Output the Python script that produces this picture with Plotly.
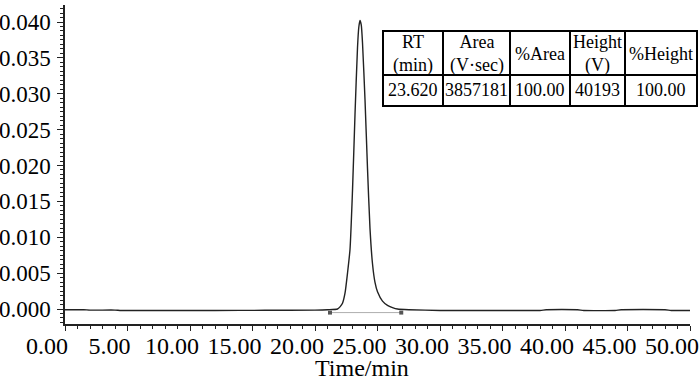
import plotly.graph_objects as go

# ---- data ----
time_min = [0.0, 1.5, 2.0, 4.0, 4.5, 8.0, 8.5, 12.0, 16.0, 20.0, 21.0, 21.8,
            22.0, 22.2, 22.4, 22.6, 22.8, 23.0, 23.2, 23.4, 23.5, 23.6, 23.7,
            23.8, 24.0, 24.2, 24.4, 24.6, 24.8, 25.0, 25.4, 25.8, 26.2, 26.6,
            27.5, 30.0, 34.0, 38.0, 38.5, 41.0, 41.5, 44.0, 44.5, 48.0, 48.5, 50.0]
signal_v = [-0.0001, -0.0001, -0.00015, -0.00015, -0.0002, -0.0002, -0.0002,
            -0.0002, -0.00018, -0.00015, -0.0001, 0.0000,
            0.0003, 0.0008, 0.0022, 0.0050, 0.0083, 0.0165, 0.0271, 0.0364,
            0.0392, 0.0402, 0.0396, 0.0371, 0.0292, 0.0196, 0.0112, 0.0063,
            0.0037, 0.0024, 0.0011, 0.0005, 0.0002, 0.0000,
            -0.0001, -0.0002, -0.0002, -0.0002, -0.0001, -0.0001, -0.0002,
            -0.0002, -0.0001, -0.0001, -0.0002, -0.0002]

# integration start / end marks
mark_time = [21.2, 26.9]
mark_level = [-0.0005, -0.0005]

# result table
table_header = ["RT<br>(min)", "Area<br>(V·sec)", "%Area", "Height<br>(V)", "%Height"]
table_values = ["23.620", "3857181", "100.00", "40193", "100.00"]

x_ticks = [0, 5, 10, 15, 20, 25, 30, 35, 40, 45, 50]
x_tick_text = ["%.2f" % v for v in x_ticks]
y_ticks = [0.000, 0.005, 0.010, 0.015, 0.020, 0.025, 0.030, 0.035, 0.040]
y_tick_text = ["%.3f" % v for v in y_ticks]

# ---- layout helpers (pixel -> paper) ----
W, H = 700, 381
def px(x):
    return x / W
def py(y):
    return 1 - y / H

FONT = "Liberation Serif"

fig = go.Figure()
fig.add_trace(go.Scatter(
    x=time_min, y=signal_v, mode="lines",
    line=dict(color="#222222", width=1.4, shape="spline", smoothing=0.6),
    hoverinfo="skip", showlegend=False))
fig.add_trace(go.Scatter(
    x=mark_time, y=mark_level, mode="lines+markers",
    line=dict(color="#999999", width=0.8),
    marker=dict(symbol="square", size=4, color="#555555"),
    hoverinfo="skip", showlegend=False))

fig.update_layout(
    width=W, height=H,
    margin=dict(l=0, r=0, t=0, b=0, autoexpand=False),
    paper_bgcolor="white", plot_bgcolor="white",
    font=dict(family=FONT, color="black", size=24),
    xaxis=dict(
        domain=[px(65), px(690)], range=[0, 50], automargin=False,
        tickvals=x_ticks, ticktext=x_tick_text,
        ticks="outside", ticklen=5, tickwidth=1.2, tickcolor="#222",
        showline=True, linecolor="#222", linewidth=1.5,
        showgrid=False, zeroline=False,
        ticklabelshift=-18, ticklabelstandoff=-6,
        tickfont=dict(family=FONT, size=24, color="black"),
        minor=dict(dtick=1, tick0=0, ticks="outside", ticklen=3,
                   tickcolor="#222", tickwidth=1, showgrid=False),
    ),
    yaxis=dict(
        domain=[py(324), py(5)], range=[-0.00209, 0.04237], automargin=False,
        tickvals=y_ticks, ticktext=y_tick_text,
        ticks="outside", ticklen=6, tickwidth=1.2, tickcolor="#222",
        showline=True, linecolor="#222", linewidth=1.5,
        showgrid=False, zeroline=False,
        ticklabelstandoff=2,
        tickfont=dict(family=FONT, size=23, color="black"),
        minor=dict(dtick=0.000625, tick0=0, ticks="outside", ticklen=3,
                   tickcolor="#222", tickwidth=1, showgrid=False),
    ),
)

# axis title
fig.add_annotation(text="Time/min", xref="paper", yref="paper",
                   x=px(362), y=py(368), xanchor="center", yanchor="middle",
                   showarrow=False, font=dict(family=FONT, size=24, color="black"))

# ---- result table ----
col_edges = [383, 443, 510, 570, 625, 697]
row_edges = [31, 75, 106]
lw = 2
fig.add_shape(type="rect", xref="paper", yref="paper",
              x0=px(col_edges[0]), x1=px(col_edges[-1]),
              y0=py(row_edges[-1]), y1=py(row_edges[0]),
              line=dict(color="black", width=lw), fillcolor="white", layer="above")
for cx in col_edges[1:-1]:
    fig.add_shape(type="line", xref="paper", yref="paper",
                  x0=px(cx), x1=px(cx), y0=py(row_edges[-1]), y1=py(row_edges[0]),
                  line=dict(color="black", width=lw), layer="above")
fig.add_shape(type="line", xref="paper", yref="paper",
              x0=px(col_edges[0]), x1=px(col_edges[-1]),
              y0=py(row_edges[1]), y1=py(row_edges[1]),
              line=dict(color="black", width=lw), layer="above")
for i in range(len(table_header)):
    cx = (col_edges[i] + col_edges[i + 1]) / 2
    fig.add_annotation(text=table_header[i], xref="paper", yref="paper",
                       x=px(cx), y=py((row_edges[0] + row_edges[1]) / 2 + 1),
                       xanchor="center", yanchor="middle", showarrow=False,
                       font=dict(family=FONT, size=18, color="black"))
    fig.add_annotation(text=table_values[i], xref="paper", yref="paper",
                       x=px(cx), y=py((row_edges[1] + row_edges[2]) / 2),
                       xanchor="center", yanchor="middle", showarrow=False,
                       font=dict(family=FONT, size=18, color="black"))

fig.write_html("out.html", config={"displayModeBar": False},
               post_script="document.body.style.margin='0';document.body.style.padding='0';")
